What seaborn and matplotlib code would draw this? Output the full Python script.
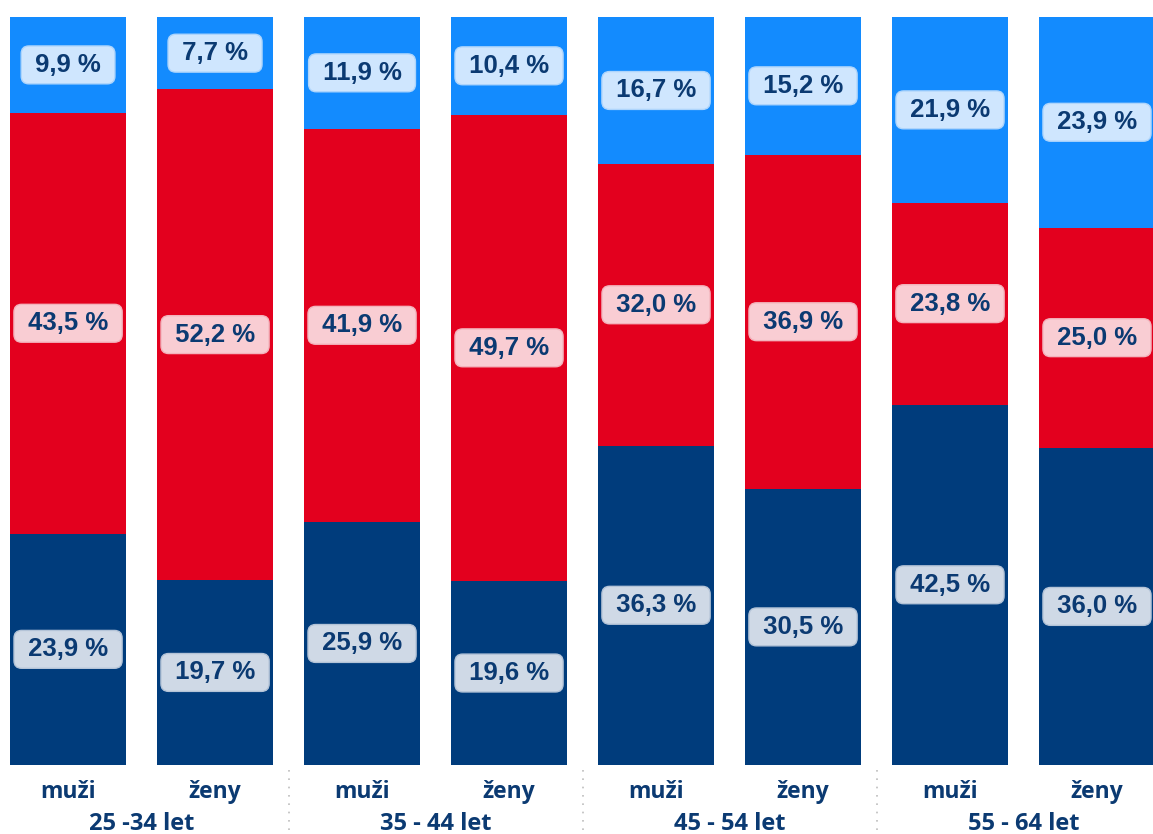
import matplotlib
matplotlib.use("Agg")
import matplotlib.pyplot as plt
import matplotlib.transforms as mtransforms
import numpy as np
import pandas as pd
import seaborn as sns

# ---- data ----
groups = ["25 -34 let", "35 - 44 let", "45 - 54 let", "55 - 64 let"]
sexes = ["muži", "ženy"]
dark_vals = [23.9, 19.7, 25.9, 19.6, 36.3, 30.5, 42.5, 36.0]
red_vals = [43.5, 52.2, 41.9, 49.7, 32.0, 36.9, 23.8, 25.0]
light_vals = [9.9, 7.7, 11.9, 10.4, 16.7, 15.2, 21.9, 23.9]

C_DARK = "#003C7C"
C_RED = "#E3001E"
C_LIGHT = "#138BFE"
C_TEXT = "#0B3A72"

sns.set_theme(style="white")
plt.rcParams["font.family"] = ["Liberation Sans", "DejaVu Sans"]

keys = [f"{g}|{s}" for g in groups for s in sexes]
dark = np.array(dark_vals)
red = np.array(red_vals)
light = np.array(light_vals)
total = dark + red + light
p_dark = dark / total * 100
p_red = red / total * 100
p_light = light / total * 100

df = pd.DataFrame({
    "key": keys,
    "top": p_dark + p_red + p_light,
    "mid": p_dark + p_red,
    "low": p_dark,
})

W, H = 1153, 834
fig = plt.figure(figsize=(W / 100, H / 100), dpi=100)
ax = fig.add_axes([0, 69 / H, 1, 748 / H])

sns.barplot(data=df, x="key", y="top", color=C_LIGHT, width=0.79,
            saturation=1, ax=ax, linewidth=0, order=keys)
sns.barplot(data=df, x="key", y="mid", color=C_RED, width=0.79,
            saturation=1, ax=ax, linewidth=0, order=keys)
sns.barplot(data=df, x="key", y="low", color=C_DARK, width=0.79,
            saturation=1, ax=ax, linewidth=0, order=keys)

ax.set_xlim(-0.463, 7.381)
ax.set_ylim(0, 100)
ax.set_xlabel("")
ax.set_ylabel("")
ax.set_xticks([])
ax.set_yticks([])
for s in ax.spines.values():
    s.set_visible(False)


def fmt(v):
    return " " + f"{v:.1f}".replace(".", ",") + " % "


box_styles = [
    ("#CFD9E6", "#B3C3D7"),  # dark segment
    ("#F9CDD3", "#F3B3BC"),  # red segment
    ("#CFE6FE", "#AED5FC"),  # light segment
]

for i in range(len(keys)):
    segs = [
        (p_dark[i] / 2, dark[i], box_styles[0]),
        (p_dark[i] + p_red[i] / 2, red[i], box_styles[1]),
        (p_dark[i] + p_red[i] + p_light[i] / 2, light[i], box_styles[2]),
    ]
    for y, v, (fc, ec) in segs:
        ax.text(i, y, fmt(v), ha="center", va="center", fontsize=18.5,
                fontweight="bold", color=C_TEXT,
                bbox=dict(boxstyle="round,pad=0.27,rounding_size=0.3",
                          fc=fc, ec=ec, lw=1))

trans = mtransforms.blended_transform_factory(ax.transData, ax.transAxes)
ah = 748.0
for i, k in enumerate(keys):
    ax.text(i, -27 / ah, k.split("|")[1], transform=trans, ha="center",
            va="center", fontsize=16.5, fontweight="bold", color=C_TEXT,
            family=["Open Sans", "DejaVu Sans"])
for g_i, g in enumerate(groups):
    ax.text(2 * g_i + 0.5, -59 / ah, g, transform=trans, ha="center",
            va="center", fontsize=17, fontweight="bold", color=C_TEXT,
            family=["Open Sans", "DejaVu Sans"])
for xs in [1.5, 3.5, 5.5]:
    ax.plot([xs, xs], [-5 / ah, -69 / ah], transform=trans, clip_on=False,
            color="#BDBDBD", lw=1.2, ls=(0, (1, 4)))

fig.savefig("out.png", dpi=100, facecolor="white")
